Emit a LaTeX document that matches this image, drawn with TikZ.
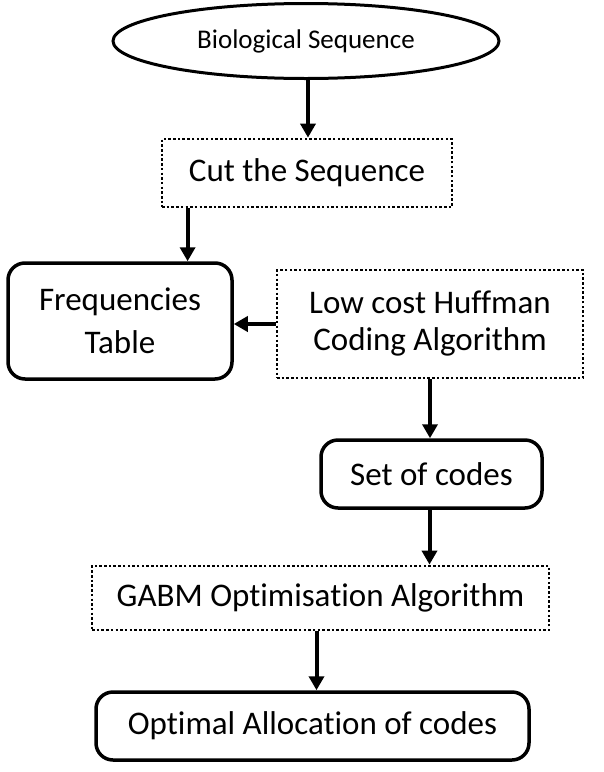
\documentclass[tikz,border=0pt]{standalone}
\usepackage{fontspec}
\setmainfont[Ligatures=NoCommon]{Carlito}
\usetikzlibrary{shapes.geometric,arrows.meta}

\tikzset{
    solidbox/.style={draw, line width=3.5pt, rounded corners=17pt, align=center, inner sep=0pt},
    dotbox/.style={draw, line width=2.8pt, dash pattern=on 2.5pt off 2.2pt, align=center, inner sep=0pt},
    arr/.style={line width=4pt, -{Triangle[length=14pt,width=15pt]}},
    big/.style={font=\fontsize{33}{37}\selectfont}
}

\begin{document}
\begin{tikzpicture}[x=1pt, y=-1pt]
    \useasboundingbox (0,0) rectangle (604,772);

    % start
    \node[draw, ellipse, line width=3pt, minimum width=386pt, minimum height=75pt,
          inner sep=0pt, font=\fontsize{27}{30}\selectfont] (bio) at (306,41) {Biological Sequence};

    % steps
    \node[dotbox, big, minimum width=290pt, minimum height=68pt] (cut) at (307,173) {Cut the Sequence};
    \node[solidbox, font=\fontsize{33}{43}\selectfont, minimum width=224pt, minimum height=116pt] (freq) at (120,321) {Frequencies\\Table};
    \node[dotbox, big, minimum width=306pt, minimum height=108pt] (huff) at (430,324) {Low cost Huffman\\Coding Algorithm};
    \node[solidbox, big, minimum width=221pt, minimum height=68pt] (set) at (431.5,474) {Set of codes};
    \node[dotbox, big, minimum width=457pt, minimum height=64pt] (gabm) at (320.5,598) {GABM Optimisation Algorithm};
    \node[solidbox, big, minimum width=433pt, minimum height=68pt] (opt) at (312.5,726) {Optimal Allocation of codes};

    % connections
    \draw[arr] ([xshift=2pt]bio.south) -- ([xshift=2pt]bio.south |- cut.north);
    \draw[arr] ([xshift=27pt]cut.south west) -- ([xshift=27pt]cut.south west |- freq.north);
    \draw[arr] (huff.west) -- (freq.east |- huff.west);
    \draw[arr] (huff.south) -- (huff.south |- set.north);
    \draw[arr] ([xshift=-2pt]set.south) -- ([xshift=-2pt]set.south |- gabm.north);
    \draw[arr] ([xshift=-4pt]gabm.south) -- ([xshift=-4pt]gabm.south |- opt.north);
\end{tikzpicture}
\end{document}
